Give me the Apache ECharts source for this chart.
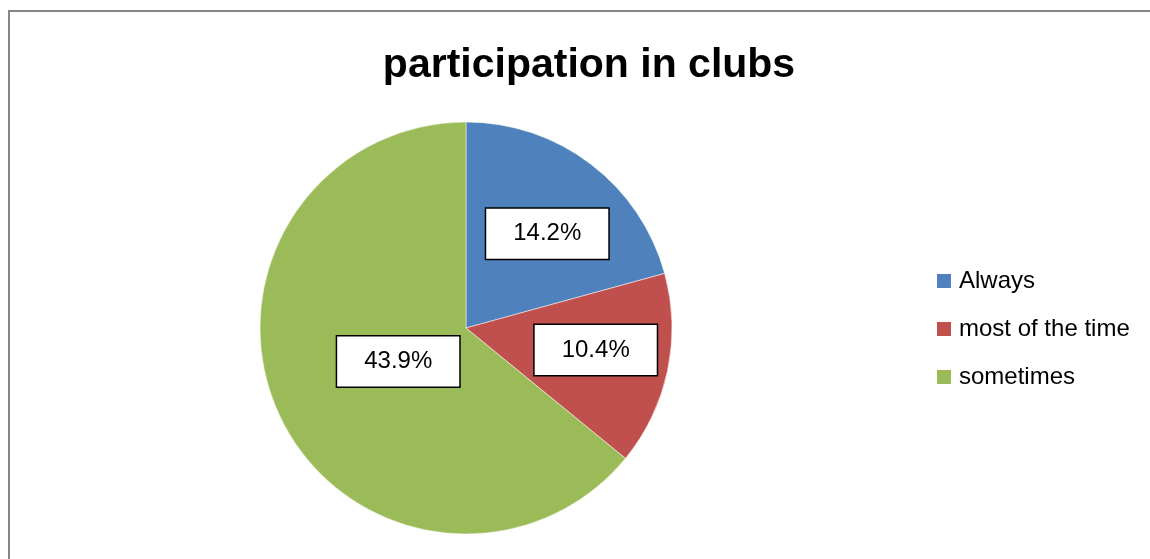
<!DOCTYPE html>
<html>
<head>
<meta charset="utf-8">
<script src="https://cdn.jsdelivr.net/npm/echarts@6/dist/echarts.min.js"></script>
<style>
html,body{margin:0;padding:0;background:#fff;}
#c{width:1150px;height:559px;}
</style>
</head>
<body>
<div id="c"></div>
<script>
const titleText = 'participation in clubs';
const categories = ['Always', 'most of the time', 'sometimes'];
const values = [14.2, 10.4, 43.9];
const colors = ['#4F81BD', '#C0504D', '#9BBB59'];
const labelOffsets = [[17, -10], [26, 0], [28, -12]];

const chart = echarts.init(document.getElementById('c'), null, {renderer: 'canvas'});
const font = '"Liberation Sans", Arial, sans-serif';

chart.setOption({
  animation: false,
  backgroundColor: '#fff',
  graphic: [{
    type: 'rect',
    shape: {x: 9, y: 11, width: 1300, height: 700},
    style: {fill: 'none', stroke: '#868686', lineWidth: 2},
    silent: true, z: -1
  }],
  title: {
    text: titleText,
    left: 584, top: 40, textAlign: 'center',
    textStyle: {fontFamily: font, fontWeight: 'bold', fontSize: 41, color: '#000'}
  },
  legend: {
    orient: 'vertical',
    left: 935, top: 269,
    padding: 0,
    itemWidth: 16, itemHeight: 16, itemGap: 24,
    icon: 'rect',
    textStyle: {fontFamily: font, fontSize: 24, color: '#000', padding: [0, 0, 0, 2]},
    data: categories
  },
  series: [{
    type: 'pie',
    center: [466, 328],
    radius: 206,
    startAngle: 90,
    clockwise: true,
    avoidLabelOverlap: false,
    itemStyle: {borderColor: '#fff', borderWidth: 0.5},
    label: {
      show: true,
      position: 'inside',
      formatter: p => p.value.toFixed(1) + '%',
      fontFamily: font, fontSize: 24, color: '#000',
      backgroundColor: '#fff', borderColor: '#000', borderWidth: 1.5,
      padding: [11, 27], lineHeight: 28
    },
    labelLine: {show: false},
    emphasis: {disabled: true},
    data: categories.map((c, i) => ({
      name: c, value: values[i],
      itemStyle: {color: colors[i]},
      label: {offset: labelOffsets[i]}
    }))
  }]
});
</script>
</body>
</html>
